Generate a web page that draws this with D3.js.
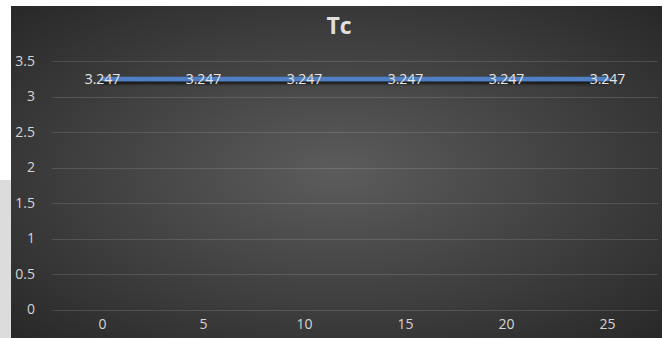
<!DOCTYPE html>
<html>
<head>
<meta charset="utf-8">
<script src="https://cdn.jsdelivr.net/npm/d3@7"></script>
<style>
  html, body { margin: 0; padding: 0; background: #ffffff; }
  svg { display: block; }
  text { font-family: "Open Sans", "Liberation Sans", sans-serif; }
</style>
</head>
<body>
<svg id="chart" width="670" height="338"></svg>
<script>
// Series data
const categories = [0, 5, 10, 15, 20, 25];
const tcValues = [3.247, 3.247, 3.247, 3.247, 3.247, 3.247];
const yTickValues = [0, 0.5, 1, 1.5, 2, 2.5, 3, 3.5];
const chartTitle = "Tc";

const svg = d3.select("#chart");
const W = 670, H = 338;

// Frame: dark chart area with a light strip along the left edge
const frame = { left: 11, top: 6, right: 662, bottom: 338 };
const plot = { left: 52, right: 658, top: 61, bottom: 309.5 };

const defs = svg.append("defs");
const grad = defs.append("radialGradient")
  .attr("id", "bgGrad")
  .attr("cx", "50%").attr("cy", "50%").attr("r", "72%");
grad.append("stop").attr("offset", "0%").attr("stop-color", "#5c5c5c");
grad.append("stop").attr("offset", "100%").attr("stop-color", "#272727");

// Soft shadow under the series line (user-space region, since the path is flat)
const shadow = defs.append("filter").attr("id", "lineShadow")
  .attr("filterUnits", "userSpaceOnUse")
  .attr("x", 0).attr("y", 0).attr("width", W).attr("height", H);
shadow.append("feDropShadow")
  .attr("dx", 0).attr("dy", 2.5).attr("stdDeviation", 1.6)
  .attr("flood-color", "#000").attr("flood-opacity", 0.75);

svg.append("rect")
  .attr("x", 0).attr("y", 180).attr("width", frame.left).attr("height", H - 180)
  .attr("fill", "#dcdcdc");

svg.append("rect")
  .attr("x", frame.left).attr("y", frame.top)
  .attr("width", frame.right - frame.left).attr("height", frame.bottom - frame.top)
  .attr("fill", "url(#bgGrad)");

// Scales
const x = d3.scaleBand().domain(categories).range([plot.left, plot.right]).padding(0);
const y = d3.scaleLinear().domain([0, 3.5]).range([plot.bottom, plot.top]);
const cx = d => x(d) + x.bandwidth() / 2;

// Horizontal gridlines
svg.append("g").selectAll("line").data(yTickValues).join("line")
  .attr("x1", plot.left).attr("x2", plot.right)
  .attr("y1", d => Math.round(y(d)) + 0.5).attr("y2", d => Math.round(y(d)) + 0.5)
  .attr("stroke", "rgba(255,255,255,0.13)").attr("stroke-width", 1);

// Y axis labels
const yAxis = d3.axisLeft(y).tickValues(yTickValues).tickSize(0).tickPadding(0)
  .tickFormat(d => String(d));
svg.append("g").attr("transform", `translate(35,0)`).call(yAxis)
  .call(g => g.select(".domain").remove())
  .call(g => g.selectAll("text")
    .attr("fill", "#d4d4d4").attr("font-size", 14)
    .style("font-family", "'Open Sans', sans-serif"));

// X axis labels
const xAxis = d3.axisBottom(x).tickSize(0).tickPadding(0);
svg.append("g").attr("transform", `translate(0,319)`).call(xAxis)
  .call(g => g.select(".domain").remove())
  .call(g => g.selectAll("text")
    .attr("fill", "#d4d4d4").attr("font-size", 14)
    .style("font-family", "'Open Sans', sans-serif"));

// Series line
const line = d3.line().x((d, i) => cx(categories[i])).y(d => y(d));
svg.append("path").datum(tcValues)
  .attr("d", line)
  .attr("fill", "none")
  .attr("stroke", "#4f7fc4")
  .attr("stroke-width", 4.5)
  .attr("stroke-linecap", "round")
  .attr("filter", "url(#lineShadow)");

// Data labels centred on each point
svg.append("g").selectAll("text").data(tcValues).join("text")
  .attr("x", (d, i) => cx(categories[i]))
  .attr("y", d => y(d))
  .attr("dy", "0.35em")
  .attr("text-anchor", "middle")
  .attr("fill", "#e6e6e6")
  .attr("font-size", 14)
  .text(d => d3.format(".3f")(d));

// Title
svg.append("text")
  .attr("x", 339).attr("y", 34)
  .attr("text-anchor", "middle")
  .attr("fill", "#e0e0e0")
  .attr("font-size", 23)
  .attr("font-weight", "bold")
  .text(chartTitle);
</script>
</body>
</html>
